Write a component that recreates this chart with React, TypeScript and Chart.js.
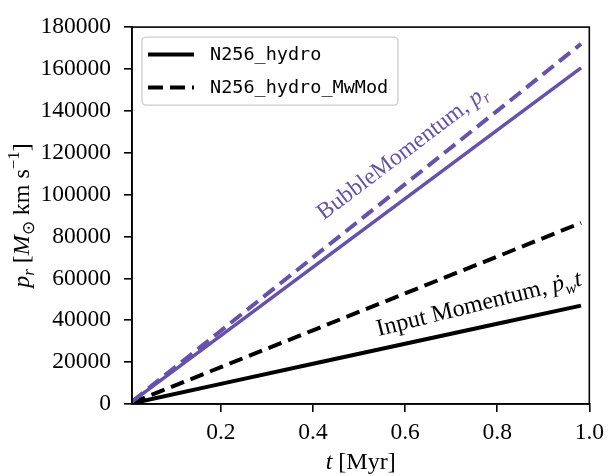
import React, { useEffect, useRef } from "react";
import { Chart, registerables } from "chart.js";
Chart.register(...registerables);

// Data (t in Myr, momentum in Msun km/s)
const times = [0.007, 0.2, 0.4, 0.6, 0.8, 0.982];
const bubbleHydro = [1100, 32700, 65400, 98100, 130800, 160500];
const bubbleMwMod = [1200, 35000, 70000, 105000, 140000, 172000];
const inputHydro = [300, 9600, 19200, 28800, 38300, 47000];
const inputMwMod = [600, 17600, 35200, 52800, 70400, 86500];

const xTicks = [0.2, 0.4, 0.6, 0.8, 1.0];
const legendLabels = ["N256_hydro", "N256_hydro_MwMod"];
const bubbleLabel = "BubbleMomentum, ";
const inputLabel = "Input Momentum, ";

const PURPLE = "#6652ab";
const SERIF = "'Liberation Serif', 'Times New Roman', serif";
const MONO = "'DejaVu Sans Mono', monospace";

type Part = { t: string; it?: boolean; sub?: boolean; sup?: boolean };

function drawRich(ctx: CanvasRenderingContext2D, parts: Part[], size: number, color: string) {
  const fontFor = (p: Part) => {
    const s = p.sub || p.sup ? size * 0.7 : size;
    return `${p.it ? "italic " : ""}${s}px ${SERIF}`;
  };
  let total = 0;
  const widths: number[] = [];
  for (const p of parts) {
    ctx.font = fontFor(p);
    const w = ctx.measureText(p.t).width;
    widths.push(w);
    total += w;
  }
  let x = -total / 2;
  ctx.fillStyle = color;
  ctx.textAlign = "left";
  ctx.textBaseline = "alphabetic";
  parts.forEach((p, i) => {
    ctx.font = fontFor(p);
    const dy = p.sub ? size * 0.22 : p.sup ? -size * 0.42 : 0;
    ctx.fillText(p.t, x, dy);
    x += widths[i];
  });
}

const decorPlugin = {
  id: "decor",
  afterDraw(chart: any) {
    const ctx: CanvasRenderingContext2D = chart.ctx;
    const ca = chart.chartArea;
    const xs = chart.scales.x;
    const ys = chart.scales.y;
    ctx.save();
    ctx.strokeStyle = "#000";
    ctx.lineWidth = 1.6;
    ctx.strokeRect(ca.left, ca.top, ca.right - ca.left, ca.bottom - ca.top);

    // legend
    const lx = ca.left + 10;
    const ly = ca.top + 10;
    const lw = 256;
    const lh = 68;
    ctx.beginPath();
    ctx.roundRect(lx, ly, lw, lh, 4);
    ctx.fillStyle = "rgba(255,255,255,0.85)";
    ctx.fill();
    ctx.strokeStyle = "#cccccc";
    ctx.lineWidth = 1.3;
    ctx.stroke();
    const rows = [ly + 17.5, ly + 50.5];
    legendLabels.forEach((lab, i) => {
      ctx.beginPath();
      ctx.strokeStyle = "#000";
      ctx.lineWidth = 4;
      ctx.setLineDash(i === 0 ? [] : [15, 7]);
      ctx.moveTo(lx + 6, rows[i]);
      ctx.lineTo(lx + 52, rows[i]);
      ctx.stroke();
      ctx.setLineDash([]);
      ctx.fillStyle = "#000";
      ctx.font = `18.5px ${MONO}`;
      ctx.textAlign = "left";
      ctx.textBaseline = "middle";
      ctx.fillText(lab, lx + 68, rows[i] + 1);
    });

    // annotations
    ctx.save();
    ctx.translate(xs.getPixelForValue(0.603), ys.getPixelForValue(117500));
    ctx.rotate((-37 * Math.PI) / 180);
    drawRich(ctx, [{ t: bubbleLabel }, { t: "p", it: true }, { t: "r", it: true, sub: true }], 23.5, PURPLE);
    ctx.restore();

    ctx.save();
    ctx.translate(xs.getPixelForValue(0.764), ys.getPixelForValue(44600));
    ctx.rotate((-14 * Math.PI) / 180);
    drawRich(
      ctx,
      [{ t: inputLabel }, { t: "\u1E57", it: true }, { t: "w", it: true, sub: true }, { t: "t", it: true }],
      24,
      "#000"
    );
    ctx.restore();

    // axis titles
    ctx.save();
    ctx.translate((ca.left + ca.right) / 2, 469);
    drawRich(ctx, [{ t: "t", it: true }, { t: " [Myr]" }], 24, "#000");
    ctx.restore();

    ctx.save();
    ctx.translate(29, (ca.top + ca.bottom) / 2);
    ctx.rotate(-Math.PI / 2);
    drawRich(
      ctx,
      [
        { t: "p", it: true },
        { t: "r", it: true, sub: true },
        { t: " [" },
        { t: "M", it: true },
        { t: "\u2299", sub: true },
        { t: " km s" },
        { t: "\u22121", sup: true },
        { t: "]" },
      ],
      24,
      "#000"
    );
    ctx.restore();
    ctx.restore();
  },
};

export default function App() {
  const ref = useRef<HTMLCanvasElement | null>(null);
  useEffect(() => {
    if (!ref.current) return;
    const mk = (data: number[]) => times.map((t, i) => ({ x: t, y: data[i] }));
    const chart = new Chart(ref.current, {
      type: "line",
      data: {
        datasets: [
          { label: "bubble hydro", data: mk(bubbleHydro), borderColor: PURPLE, borderWidth: 3.5, pointRadius: 0, fill: false },
          { label: "bubble MwMod", data: mk(bubbleMwMod), borderColor: PURPLE, borderWidth: 4, borderDash: [14, 7], pointRadius: 0, fill: false },
          { label: legendLabels[0], data: mk(inputHydro), borderColor: "#000", borderWidth: 4, pointRadius: 0, fill: false },
          { label: legendLabels[1], data: mk(inputMwMod), borderColor: "#000", borderWidth: 4, borderDash: [14, 7], pointRadius: 0, fill: false },
        ],
      },
      options: {
        responsive: false,
        animation: false,
        layout: { padding: { top: 13, right: 16, left: 0, bottom: 0 } },
        plugins: { legend: { display: false }, tooltip: { enabled: false } },
        scales: {
          x: {
            type: "linear",
            min: 0.007,
            max: 1.0,
            afterBuildTicks: (s: any) => {
              s.ticks = xTicks.map((v) => ({ value: v }));
            },
            afterFit: (s: any) => {
              s.height = 72;
            },
            grid: { drawOnChartArea: false, drawTicks: true, tickLength: 8, color: "#000", lineWidth: 1.6 },
            border: { display: true, color: "#000", width: 1.6 },
            ticks: {
              color: "#000",
              font: { family: SERIF, size: 23.5 },
              padding: 7,
              maxRotation: 0,
              callback: (v: any) => Number(v).toFixed(1),
            },
          },
          y: {
            type: "linear",
            min: 0,
            max: 180000,
            afterFit: (s: any) => {
              s.width = 132;
            },
            grid: { drawOnChartArea: false, drawTicks: true, tickLength: 8, color: "#000", lineWidth: 1.6 },
            border: { display: true, color: "#000", width: 1.6 },
            ticks: {
              color: "#000",
              stepSize: 20000,
              font: { family: SERIF, size: 23.5 },
              padding: 13,
              callback: (v: any) => String(v),
            },
          },
        },
      },
      plugins: [decorPlugin],
    } as any);
    return () => chart.destroy();
  }, []);
  return (
    <div style={{ position: "fixed", left: 0, top: 0, width: 611, height: 476, background: "#fff" }}>
      <canvas ref={ref} width={611} height={476} />
    </div>
  );
}
